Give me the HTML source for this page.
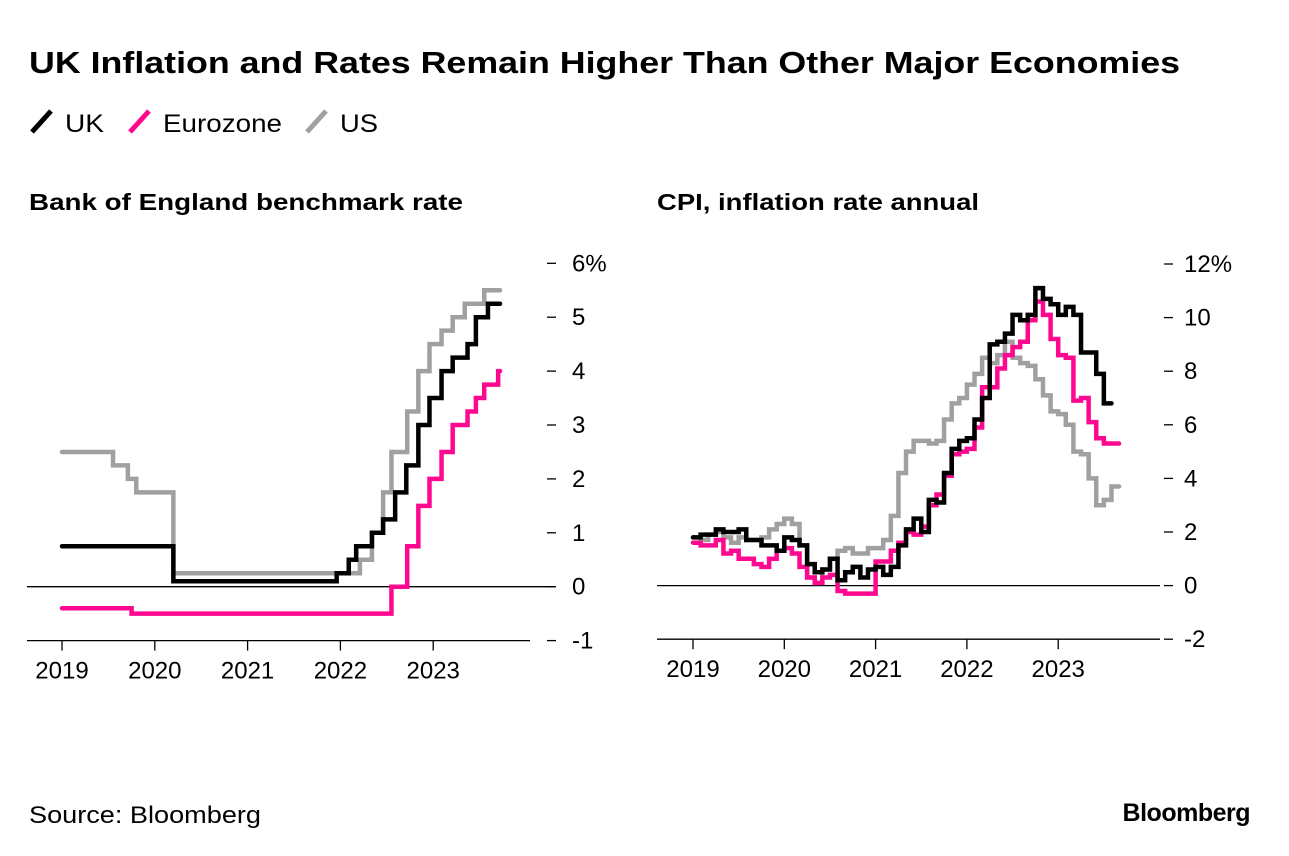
<!DOCTYPE html>
<html><head><meta charset="utf-8">
<style>
html,body{margin:0;padding:0;background:#fff;}
svg{display:block;font-family:"Liberation Sans",sans-serif;}
</style></head>
<body>
<svg id="root" width="1289" height="856" viewBox="0 0 1289 856">
<text x="29" y="73" font-size="31" font-weight="bold" fill="#000" textLength="1151" lengthAdjust="spacingAndGlyphs">UK Inflation and Rates Remain Higher Than Other Major Economies</text>
<g>
 <g><line x1="32" y1="132" x2="51" y2="111" stroke="#000" stroke-width="5"/><text x="65" y="132" font-size="25" textLength="39" lengthAdjust="spacingAndGlyphs">UK</text></g>
 <g><line x1="130" y1="132" x2="149" y2="111" stroke="#ff0890" stroke-width="5"/><text x="163" y="132" font-size="25" textLength="119" lengthAdjust="spacingAndGlyphs">Eurozone</text></g>
 <g><line x1="307" y1="132" x2="326" y2="111" stroke="#a0a0a0" stroke-width="5"/><text x="340" y="132" font-size="25" textLength="38" lengthAdjust="spacingAndGlyphs">US</text></g>
</g>
<text x="29" y="210" font-size="23" font-weight="bold" textLength="434" lengthAdjust="spacingAndGlyphs">Bank of England benchmark rate</text>
<text x="657" y="210" font-size="23" font-weight="bold" textLength="322" lengthAdjust="spacingAndGlyphs">CPI, inflation rate annual</text>
<text x="29" y="823" font-size="24" textLength="232" lengthAdjust="spacingAndGlyphs">Source: Bloomberg</text>
<text x="1250" y="821" font-size="25" font-weight="bold" text-anchor="end" letter-spacing="-0.5">Bloomberg</text>
<g id="left"></g>
<g id="right"></g>
</svg>
<script>
// ---- Left chart data (step change points; decimal years) ----
const rateUkDates = [2019.0,2020.2,2021.96,2022.09,2022.17,2022.34,2022.46,2022.59,2022.71,2022.84,2022.96,2023.09,2023.21,2023.37,2023.46,2023.59,2023.72];
const rateUkValues = [0.75,0.1,0.25,0.5,0.75,1.0,1.25,1.75,2.25,3.0,3.5,4.0,4.25,4.5,5.0,5.25,5.25];
const rateUsDates = [2019.0,2019.55,2019.71,2019.8,2020.2,2022.21,2022.34,2022.46,2022.55,2022.72,2022.84,2022.96,2023.09,2023.21,2023.34,2023.55,2023.72];
const rateUsValues = [2.5,2.25,2.0,1.75,0.25,0.5,1.0,1.75,2.5,3.25,4.0,4.5,4.75,5.0,5.25,5.5,5.5];
const rateEzDates = [2019.0,2019.75,2022.55,2022.72,2022.84,2022.96,2023.09,2023.21,2023.37,2023.46,2023.55,2023.7,2023.72];
const rateEzValues = [-0.4,-0.5,0.0,0.75,1.5,2.0,2.5,3.0,3.25,3.5,3.75,4.0,4.0];
const rateTicks = [-1,0,1,2,3,4,5,6];
const rateTickLabels = ["-1","0","1","2","3","4","5","6%"];
const yearTicks = [2019,2020,2021,2022,2023];

// ---- Right chart data (monthly from Jan 2019) ----
const cpiUk = [1.8,1.9,1.9,2.1,2.0,2.0,2.1,1.7,1.7,1.5,1.5,1.3, 1.8,1.7,1.5,0.8,0.5,0.6,1.0,0.2,0.5,0.7,0.3,0.6, 0.7,0.4,0.7,1.5,2.1,2.5,2.0,3.2,3.1,4.2,5.1,5.4, 5.5,6.2,7.0,9.0,9.1,9.4,10.1,9.9,10.1,11.1,10.7,10.5, 10.1,10.4,10.1,8.7,8.7,7.9,6.8];
const cpiEz = [1.6,1.5,1.5,1.7,1.2,1.3,1.0,1.0,0.8,0.7,1.0,1.3, 1.4,1.2,0.7,0.3,0.1,0.3,0.4,-0.2,-0.3,-0.3,-0.3,-0.3, 0.9,0.9,1.3,1.6,2.0,1.9,2.2,3.0,3.4,4.1,4.9,5.0, 5.1,5.9,7.4,7.4,8.1,8.6,8.9,9.1,9.9,10.6,10.1,9.2, 8.6,8.5,6.9,7.0,6.1,5.5,5.3,5.3];
const cpiUs = [1.8,1.7,1.9,2.0,1.8,1.6,1.8,1.7,1.7,1.8,2.1,2.3, 2.5,2.3,1.5,0.3,0.1,0.6,1.0,1.3,1.4,1.2,1.2,1.4, 1.4,1.7,2.6,4.2,5.0,5.4,5.4,5.3,5.4,6.2,6.8,7.0, 7.5,7.9,8.5,8.3,8.6,9.1,8.5,8.3,8.2,7.7,7.1,6.5, 6.4,6.0,5.0,4.9,4.0,3.0,3.2,3.7];
const cpiTicks = [-2,0,2,4,6,8,10,12];
const cpiTickLabels = ["-2","0","2","4","6","8","10","12%"];

const NS = "http://www.w3.org/2000/svg";
function mk(tag, attrs, parent){const e=document.createElementNS(NS,tag);for(const k in attrs)e.setAttribute(k,attrs[k]);parent.appendChild(e);return e;}

function drawAxes(g, xs, ys, ticks, labels, cfg){
  const z = mk('line',{x1:cfg.x0,x2:cfg.zeroEnd,y1:ys(0),y2:ys(0),stroke:'#000','stroke-width':1.3},g);
  
  
  const b = mk('line',{x1:cfg.x0,x2:cfg.axisEnd,y1:ys(ticks[0]),y2:ys(ticks[0]),stroke:'#000','stroke-width':1.3},g);
  
  
  ticks.forEach((t,i)=>{
    const tm = mk('line',{x1:cfg.tickX,x2:cfg.tickX+9,y1:ys(t),y2:ys(t),stroke:'#000','stroke-width':1.3},g);
    
    
    const tx = mk('text',{x:cfg.tickX+cfg.labelDx,y:ys(t)+8,'font-size':24},g);
    tx.textContent = labels[i];
    
    
  });
  yearTicks.forEach(yr=>{
    const tm = mk('line',{x1:xs(yr),x2:xs(yr),y1:ys(ticks[0]),y2:ys(ticks[0])+10,stroke:'#000','stroke-width':1.3},g);
    
    
    const tx = mk('text',{x:xs(yr),y:ys(ticks[0])+38,'font-size':24,'text-anchor':'middle'},g);
    tx.textContent = String(yr);
    
    
  });
}

function stepPath(dates, vals, xs, ys){
  let d = 'M'+xs(dates[0])+','+ys(vals[0]);
  for(let i=1;i<dates.length;i++){
    d += ' H'+xs(dates[i]) + ' V'+ys(vals[i]);
  }
  return d;
}
function monthlyStep(vals, xs, ys){
  let d='M'+xs(2019)+','+ys(vals[0]);
  for(let i=0;i<vals.length;i++){
    if(i>0) d+=' V'+ys(vals[i]);
    d+=' H'+xs(2019+(i+1)/12);
  }
  return d;
}

// Left chart
const L = document.getElementById('left');
const lx = v => 62 + (v-2019)*92.8;
const ly = v => 586.7 - v*53.9;
drawAxes(L, lx, ly, rateTicks, rateTickLabels, {x0:27,zeroEnd:555,axisEnd:530,tickX:547,labelDx:25});
[[rateUsDates,rateUsValues,'#a0a0a0','rates-us-line'],[rateEzDates,rateEzValues,'#ff0890','rates-eurozone-line'],[rateUkDates,rateUkValues,'#000','rates-uk-line']].forEach(s=>{
  const p = mk('path',{d:stepPath(s[0],s[1],lx,ly),fill:'none',stroke:s[2],'stroke-width':4.5,'stroke-linejoin':'miter','stroke-linecap':'round'},L);
  
  
});

// Right chart
const R = document.getElementById('right');
const rx = v => 693 + (v-2019)*91.3;
const ry = v => 585.6 - v*26.8;
drawAxes(R, rx, ry, cpiTicks, cpiTickLabels, {x0:657,zeroEnd:1160,axisEnd:1160,tickX:1164,labelDx:20});
[[cpiUs,'#a0a0a0','cpi-us-line'],[cpiEz,'#ff0890','cpi-eurozone-line'],[cpiUk,'#000','cpi-uk-line']].forEach(s=>{
  const p = mk('path',{d:monthlyStep(s[0],rx,ry),fill:'none',stroke:s[1],'stroke-width':4.5,'stroke-linecap':'round'},R);
  
  
});
</script>
</body></html>
